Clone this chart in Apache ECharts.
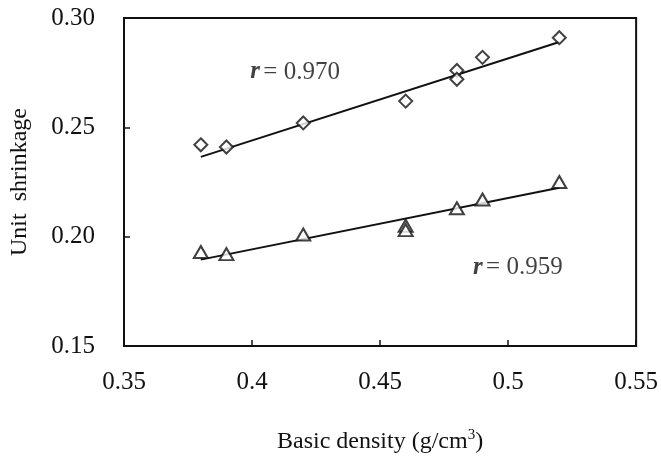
<!DOCTYPE html>
<html>
<head>
<meta charset="utf-8">
<script src="https://cdn.jsdelivr.net/npm/echarts@6/dist/echarts.min.js"></script>
<style>
  html, body { margin: 0; padding: 0; background: #fff; }
  #chart { width: 661px; height: 468px; }
</style>
</head>
<body>
<div id="chart"></div>
<script>
// values
const density = [0.38, 0.39, 0.42, 0.46, 0.48, 0.48, 0.49, 0.52];
const shrinkDiamond = [0.242, 0.241, 0.252, 0.262, 0.276, 0.272, 0.282, 0.291];
const densityTri = [0.38, 0.39, 0.42, 0.46, 0.46, 0.48, 0.49, 0.52];
const shrinkTriangle = [0.193, 0.192, 0.201, 0.205, 0.203, 0.213, 0.217, 0.225];
// fitted line end points
const fitDiamond = [[0.38, 0.2365], [0.52, 0.289]];
const fitTriangle = [[0.38, 0.1895], [0.52, 0.2224]];
const rLabels = [
  { pos: [0.4168, 0.2753], text: '0.970' },
  { pos: [0.5038, 0.1858], text: '0.959' }
];
const xTicks = ['0.35', '0.4', '0.45', '0.5', '0.55'];

const serif = '"Liberation Serif", "DejaVu Serif", serif';
const ink = '#111';
const fs = 25;

function zip(xs, ys) { return xs.map((x, i) => [x, ys[i]]); }

const rhombus = 'path://M0,-1 L1,0 L0,1 L-1,0 Z';

let chart = echarts.init(document.getElementById('chart'));
let option = {
  animation: false,
  backgroundColor: '#fff',
  grid: {
    left: 122, right: 22, top: 18, bottom: 122,
    show: true, borderColor: ink, borderWidth: 2
  },
  xAxis: {
    type: 'value', min: 0.35, max: 0.55, interval: 0.05,
    axisLine: { show: true, lineStyle: { color: ink, width: 2 } },
    axisTick: { show: true, inside: true, length: 6, lineStyle: { color: ink, width: 1.5 } },
    splitLine: { show: false },
    axisLabel: {
      color: ink, fontFamily: serif, fontSize: fs, margin: 24,
      formatter: v => xTicks[Math.round((v - 0.35) / 0.05)]
    },
    name: '{a|Basic density (g/cm}{s|3}{a|)}',
    nameLocation: 'middle', nameGap: 82,
    nameTextStyle: {
      rich: {
        a: { fontFamily: serif, fontSize: fs - 1, color: ink },
        s: { fontFamily: serif, fontSize: 15, color: ink, verticalAlign: 'top', padding: [0, 0, 12, 0] }
      }
    }
  },
  yAxis: {
    type: 'value', min: 0.15, max: 0.30, interval: 0.05,
    axisLine: { show: true, lineStyle: { color: ink, width: 2 } },
    axisTick: { show: true, inside: true, length: 6, lineStyle: { color: ink, width: 1.5 } },
    splitLine: { show: false },
    axisLabel: {
      color: ink, fontFamily: serif, fontSize: fs, margin: 29,
      formatter: v => v.toFixed(2)
    },
    name: 'Unit  shrinkage',
    nameLocation: 'middle', nameGap: 92,
    nameTextStyle: { fontFamily: serif, fontSize: fs - 1, color: ink }
  },
  series: [
    {
      type: 'line', data: fitDiamond, symbol: 'none',
      lineStyle: { color: ink, width: 2 }, z: 2
    },
    {
      type: 'line', data: fitTriangle, symbol: 'none',
      lineStyle: { color: ink, width: 2 }, z: 2
    },
    {
      type: 'scatter', data: zip(density, shrinkDiamond),
      symbol: rhombus, symbolSize: [13, 13],
      itemStyle: { color: '#fff', borderColor: ink, borderWidth: 2 }, z: 3
    },
    {
      type: 'scatter', data: zip(densityTri, shrinkTriangle),
      symbol: 'triangle', symbolSize: [14, 12],
      itemStyle: { color: '#fff', borderColor: ink, borderWidth: 2 }, z: 3
    },
    {
      type: 'scatter', symbolSize: 0, silent: true,
      data: rLabels.map(d => ({ value: d.pos, name: d.text })),
      label: {
        show: true, position: 'inside',
        formatter: p => '{r|r} {t|= ' + p.name + '}',
        rich: {
          r: { fontFamily: serif, fontSize: fs, fontStyle: 'italic', fontWeight: 'bold', color: ink },
          t: { fontFamily: serif, fontSize: fs, color: ink }
        }
      }
    }
  ]
};
chart.setOption(option);
</script>
</body>
</html>
